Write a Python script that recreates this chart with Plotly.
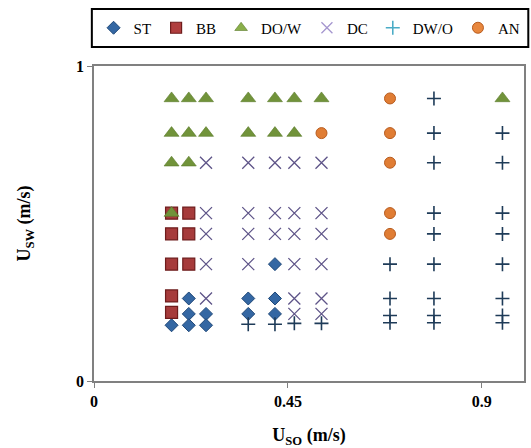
import plotly.graph_objects as go

# ---- data ----
st_x = [0.18, 0.22, 0.22, 0.22, 0.26, 0.26, 0.358, 0.358, 0.42, 0.42, 0.42]
st_y = [0.177, 0.262, 0.213, 0.177, 0.213, 0.177, 0.262, 0.213, 0.371, 0.262, 0.213]

bb_x = [0.18, 0.22, 0.18, 0.22, 0.18, 0.22, 0.18, 0.18]
bb_y = [0.533, 0.533, 0.467, 0.467, 0.371, 0.371, 0.27, 0.218]

dow_x = [0.18, 0.22, 0.26, 0.358, 0.42, 0.465, 0.528, 0.948,
         0.18, 0.22, 0.26, 0.358, 0.42, 0.465,
         0.18, 0.22, 0.18]
dow_y = [0.897, 0.897, 0.897, 0.897, 0.897, 0.897, 0.897, 0.897,
         0.787, 0.787, 0.787, 0.787, 0.787, 0.787,
         0.693, 0.693, 0.533]

dc_x = [0.26, 0.358, 0.42, 0.465, 0.528,
        0.26, 0.358, 0.42, 0.465, 0.528,
        0.26, 0.358, 0.42, 0.465, 0.528,
        0.26, 0.358, 0.465, 0.528,
        0.26, 0.465, 0.528,
        0.465, 0.528]
dc_y = [0.693] * 5 + [0.533] * 5 + [0.467] * 5 + [0.371] * 4 + [0.262] * 3 + [0.213] * 2

dwo_x = [0.358, 0.42, 0.465, 0.528,
         0.687, 0.687, 0.687, 0.687,
         0.789, 0.789, 0.789, 0.789, 0.789, 0.789, 0.789, 0.789, 0.789,
         0.948, 0.948, 0.948, 0.948, 0.948, 0.948, 0.948, 0.948]
dwo_y = [0.18, 0.18, 0.183, 0.183,
         0.371, 0.262, 0.208, 0.185,
         0.897, 0.787, 0.693, 0.533, 0.467, 0.371, 0.262, 0.208, 0.185,
         0.787, 0.693, 0.533, 0.467, 0.371, 0.262, 0.208, 0.185]

an_x = [0.687, 0.687, 0.687, 0.687, 0.687, 0.528]
an_y = [0.897, 0.787, 0.693, 0.533, 0.467, 0.787]

x_ticks = [0, 0.45, 0.9]
x_ticklabels = ["0", "0.45", "0.9"]
y_ticks = [0, 1]
y_ticklabels = ["0", "1"]

series = [
    # name, x, y, symbol, size, plot colour, line colour, line width, legend colour
    ("ST", st_x, st_y, "diamond", 10, "#3467A3", "#1F4878", 1, "#3467A3"),
    ("BB", bb_x, bb_y, "square", 12, "#A63B3B", "#6E1C1C", 1.2, "#B03E3E"),
    ("DO/W", dow_x, dow_y, "triangle-up", 13, "#71933A", "#5A7A2A", 0.6, "#8AAF4A"),
    ("DC", dc_x, dc_y, "x-thin", 12, "#5E5488", "#5E5488", 1.3, "#A596CF"),
    ("DW/O", dwo_x, dwo_y, "cross-thin", 10, "#1E3B58", "#1E3B58", 1.6, "#4BACC6"),
    ("AN", an_x, an_y, "circle", 11, "#E07D34", "#B85C1F", 1, "#E8873E"),
]

fig = go.Figure()
for name, xs, ys, sym, size, col, lcol, lw, legcol in series:
    fig.add_trace(go.Scatter(
        x=xs, y=ys, mode="markers", name=name, showlegend=False,
        marker=dict(symbol=sym, size=size, color=col,
                    line=dict(color=lcol, width=lw)),
        hoverinfo="x+y+name",
    ))
for name, xs, ys, sym, size, col, lcol, lw, legcol in series:
    thin = sym.endswith("-thin")
    fig.add_trace(go.Scatter(
        x=[None], y=[None], mode="markers", name=name, showlegend=True,
        marker=dict(symbol=sym, size=min(size, 11), color=legcol,
                    line=dict(color=legcol if thin else lcol, width=lw)),
    ))

# legend frame (black box above the plot)
fig.add_shape(type="rect", xref="paper", yref="paper",
              x0=-0.005, x1=1.01, y0=1.06, y1=1.181,
              line=dict(color="black", width=2), fillcolor="rgba(0,0,0,0)")

axis_font = dict(family="Liberation Serif", size=16, color="black")
fig.update_layout(
    width=531, height=448,
    margin=dict(l=94, r=7, t=66, b=67, autoexpand=False),
    paper_bgcolor="white", plot_bgcolor="white",
    font=dict(family="Liberation Serif", color="black"),
    xaxis=dict(
        range=[0, 0.998], tickvals=x_ticks, ticktext=[f"<b>{t}</b>" for t in x_ticklabels],
        ticks="outside", ticklen=5, tickcolor="#808080", tickfont=axis_font,
        showgrid=False, zeroline=False, showline=True, linecolor="#808080",
        linewidth=1.5, mirror=True, automargin=False,
        title=dict(text="<b>U<sub>SO</sub> (m/s)</b>", font=dict(family="Liberation Serif", size=18, color="black"),
                   standoff=29),
    ),
    yaxis=dict(
        range=[0, 1], tickvals=y_ticks, ticktext=[f"<b>{t}</b>" for t in y_ticklabels],
        ticks="outside", ticklen=5, tickcolor="#808080", tickfont=axis_font,
        showgrid=False, zeroline=False, showline=True, linecolor="#808080",
        linewidth=1.5, mirror=True, automargin=False,
        title=dict(text="<b>U<sub>SW</sub> (m/s)</b>", font=dict(family="Liberation Serif", size=18, color="black"),
                   standoff=41),
    ),
    legend=dict(
        orientation="h", xref="container", yref="container",
        x=0.583, xanchor="center", y=1 - 28 / 448, yanchor="middle",
        borderwidth=0, bgcolor="rgba(0,0,0,0)",
        font=dict(family="Liberation Serif", size=15, color="black"),
        itemwidth=30, tracegroupgap=0,
    ),
)

fig.write_html("out.html")
